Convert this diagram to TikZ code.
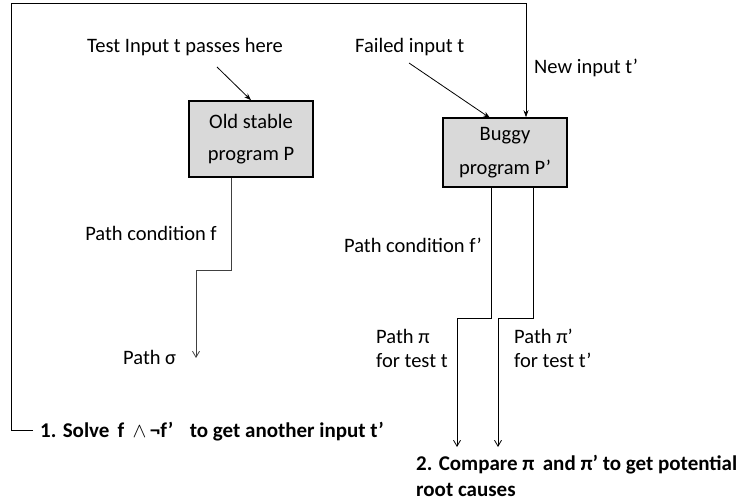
\documentclass[tikz,border=0pt]{standalone}
\usepackage{fontspec}
\setmainfont{Carlito}
\usetikzlibrary{arrows.meta}
\begin{document}
\begin{tikzpicture}[x=1pt,y=-1pt,
  txt/.style={inner sep=0pt,font=\fontsize{20.5}{24}\selectfont},
  prog/.style={draw=black,line width=1.6pt,fill=gray!30,inner sep=0pt,align=center,
    font=\fontsize{20.5}{32}\selectfont},
  conn/.style={line width=0.8pt},
  solidarrow/.style={conn,-{Stealth[length=7pt,width=5pt]}},
  openarrow/.style={conn,-{Straight Barb[length=6pt,width=7pt]}},
  bold/.style={txt,font=\fontsize{21}{26}\selectfont\bfseries}]
\useasboundingbox (0,0) rectangle (744,502);
% program boxes
\node[prog,minimum width=124pt,minimum height=76pt] (old) at (251,139) {Old stable\\program P};
\node[prog,minimum width=124pt,minimum height=69pt,font=\fontsize{20.5}{34}\selectfont] (bug) at (505,152.5) {Buggy\\program P’};
% labels
\node[txt,anchor=west] (tin) at (87,47) {Test Input t passes here};
\node[txt,anchor=west] (fin) at (355,47) {Failed input t};
\node[txt,anchor=west] (newl) at (534,68) {New input t’};
\node[txt,anchor=east] (pcf) at (217,233) {Path condition f};
\node[txt,anchor=west] (ps) at (123,357) {Path σ};
\node[txt,anchor=east] (pcf2) at (482,245) {Path condition f’};
\node[txt,anchor=west,align=left] (ppi) at (376,348) {Path π\\for test t};
\node[txt,anchor=west,align=left] (ppi2) at (514,348) {Path π’\\for test t’};
\node[bold,anchor=west] (solve) at (40,432) {1. Solve\, f \,{\normalfont$\wedge$}\,¬f’ \,\, to get another input t’};
\node[bold,anchor=west,align=left] (cmp) at (416,476) {2. Compare π \,and π’ to get potential\\root causes};
% input arrows
\coordinate (a1) at (217,67);
\draw[solidarrow] (a1) -- (old.north);
\coordinate (a2) at (409,63);
\coordinate (a2e) at (490,118);
\draw[solidarrow] (a2) -- (a2e);
% loop back
\coordinate (lA) at (33,430);
\coordinate (lB) at (11,3);
\coordinate (lC) at (526,3);
\draw[solidarrow] (lA) -| (lB) -- (lC) -- (bug.north -| lC);
% old program path
\coordinate (o1) at (231,270);
\coordinate (o2) at (196,358);
\draw[openarrow,draw=black!75] (old.south -| o1) -- (o1) -| (o2);
% buggy paths
\coordinate (b1) at (491,318);
\coordinate (b1e) at (457,447);
\draw[openarrow] (bug.south -| b1) -- (b1) -| (b1e);
\coordinate (b2) at (533,318);
\coordinate (b2e) at (498,447);
\draw[openarrow] (bug.south -| b2) -- (b2) -| (b2e);
\end{tikzpicture}
\end{document}
